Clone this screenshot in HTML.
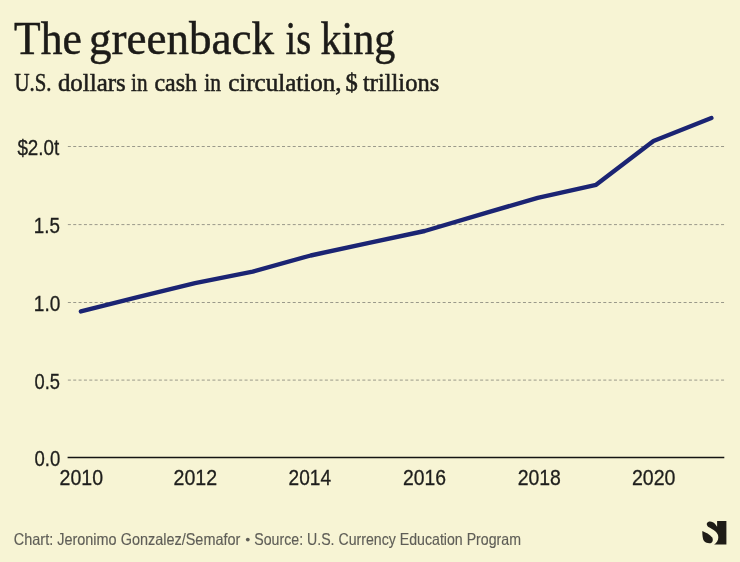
<!DOCTYPE html>
<html><head><meta charset="utf-8">
<style>
html,body{margin:0;padding:0;background:#F7F4D4;}
body{width:740px;height:562px;overflow:hidden;position:relative;font-family:"Liberation Sans",sans-serif;}
svg{position:absolute;left:0;top:0;display:block;will-change:transform;}
</style></head><body>
<svg width="740" height="562" viewBox="0 0 740 562">
<rect x="0" y="0" width="740" height="562" fill="#F7F4D4"/>
<g stroke="#9a998a" stroke-width="1" stroke-dasharray="3 2.354" fill="none">
<line x1="67.87" y1="146.5" x2="724.1" y2="146.5"/>
<line x1="67.87" y1="224.6" x2="724.1" y2="224.6"/>
<line x1="67.87" y1="302.5" x2="724.1" y2="302.5"/>
<line x1="67.87" y1="380.1" x2="724.1" y2="380.1"/>
</g>
<line x1="67.6" y1="457.5" x2="724.3" y2="457.5" stroke="#151413" stroke-width="1.5"/>
<text x="14.05" y="54" font-family="Liberation Serif" font-size="47" fill="#1c1b18" textLength="67.75" lengthAdjust="spacingAndGlyphs" stroke="#1c1b18" stroke-width="0.5">The</text>
<text x="88.88" y="54" font-family="Liberation Serif" font-size="47" fill="#1c1b18" textLength="185.24" lengthAdjust="spacingAndGlyphs" stroke="#1c1b18" stroke-width="0.5">greenback</text>
<text x="285.50" y="54" font-family="Liberation Serif" font-size="47" fill="#1c1b18" textLength="25.66" lengthAdjust="spacingAndGlyphs" stroke="#1c1b18" stroke-width="0.5">is</text>
<text x="320.50" y="54" font-family="Liberation Serif" font-size="47" fill="#1c1b18" textLength="74.65" lengthAdjust="spacingAndGlyphs" stroke="#1c1b18" stroke-width="0.5">king</text>
<text x="14.50" y="90.6" font-family="Liberation Serif" font-size="25" fill="#1f1e1b" textLength="36.94" lengthAdjust="spacingAndGlyphs" stroke="#1f1e1b" stroke-width="0.55">U.S.</text>
<text x="57.90" y="90.6" font-family="Liberation Serif" font-size="25" fill="#1f1e1b" textLength="67.93" lengthAdjust="spacingAndGlyphs" stroke="#1f1e1b" stroke-width="0.55">dollars</text>
<text x="131.10" y="90.6" font-family="Liberation Serif" font-size="25" fill="#1f1e1b" textLength="16.48" lengthAdjust="spacingAndGlyphs" stroke="#1f1e1b" stroke-width="0.55">in</text>
<text x="154.40" y="90.6" font-family="Liberation Serif" font-size="25" fill="#1f1e1b" textLength="42.62" lengthAdjust="spacingAndGlyphs" stroke="#1f1e1b" stroke-width="0.55">cash</text>
<text x="204.20" y="90.6" font-family="Liberation Serif" font-size="25" fill="#1f1e1b" textLength="16.67" lengthAdjust="spacingAndGlyphs" stroke="#1f1e1b" stroke-width="0.55">in</text>
<text x="228.20" y="90.6" font-family="Liberation Serif" font-size="25" fill="#1f1e1b" textLength="113.45" lengthAdjust="spacingAndGlyphs" stroke="#1f1e1b" stroke-width="0.55">circulation,</text>
<text x="345.42" y="90.6" font-family="Liberation Serif" font-size="25" fill="#1f1e1b" textLength="12.27" lengthAdjust="spacingAndGlyphs" stroke="#1f1e1b" stroke-width="0.55">$</text>
<text x="363.00" y="90.6" font-family="Liberation Serif" font-size="25" fill="#1f1e1b" textLength="76.21" lengthAdjust="spacingAndGlyphs" stroke="#1f1e1b" stroke-width="0.55">trillions</text>
<text x="17.40" y="154.6" font-family="Liberation Sans" font-size="21.2" fill="#1e1e1c" textLength="41.90" lengthAdjust="spacingAndGlyphs" stroke="#1e1e1c" stroke-width="0.3">$2.0t</text>
<text x="33.81" y="232.7" font-family="Liberation Sans" font-size="21.2" fill="#1e1e1c" textLength="26.19" lengthAdjust="spacingAndGlyphs" stroke="#1e1e1c" stroke-width="0.3">1.5</text>
<text x="33.80" y="310.6" font-family="Liberation Sans" font-size="21.2" fill="#1e1e1c" textLength="26.50" lengthAdjust="spacingAndGlyphs" stroke="#1e1e1c" stroke-width="0.3">1.0</text>
<text x="34.50" y="388.6" font-family="Liberation Sans" font-size="21.2" fill="#1e1e1c" textLength="25.48" lengthAdjust="spacingAndGlyphs" stroke="#1e1e1c" stroke-width="0.3">0.5</text>
<text x="34.50" y="466.0" font-family="Liberation Sans" font-size="21.2" fill="#1e1e1c" textLength="25.79" lengthAdjust="spacingAndGlyphs" stroke="#1e1e1c" stroke-width="0.3">0.0</text>
<text x="59.58" y="484.6" font-family="Liberation Sans" font-size="21.2" fill="#1e1e1c" textLength="43.44" lengthAdjust="spacingAndGlyphs" stroke="#1e1e1c" stroke-width="0.3">2010</text>
<text x="173.58" y="484.6" font-family="Liberation Sans" font-size="21.2" fill="#1e1e1c" textLength="43.55" lengthAdjust="spacingAndGlyphs" stroke="#1e1e1c" stroke-width="0.3">2012</text>
<text x="288.60" y="484.6" font-family="Liberation Sans" font-size="21.2" fill="#1e1e1c" textLength="42.40" lengthAdjust="spacingAndGlyphs" stroke="#1e1e1c" stroke-width="0.3">2014</text>
<text x="402.89" y="484.6" font-family="Liberation Sans" font-size="21.2" fill="#1e1e1c" textLength="43.03" lengthAdjust="spacingAndGlyphs" stroke="#1e1e1c" stroke-width="0.3">2016</text>
<text x="517.68" y="484.6" font-family="Liberation Sans" font-size="21.2" fill="#1e1e1c" textLength="43.24" lengthAdjust="spacingAndGlyphs" stroke="#1e1e1c" stroke-width="0.3">2018</text>
<text x="631.88" y="484.6" font-family="Liberation Sans" font-size="21.2" fill="#1e1e1c" textLength="43.55" lengthAdjust="spacingAndGlyphs" stroke="#1e1e1c" stroke-width="0.3">2020</text>
<text x="13.80" y="544.8" font-family="Liberation Sans" font-size="16.5" fill="#5f5e57" textLength="226.56" lengthAdjust="spacingAndGlyphs" stroke="#5f5e57" stroke-width="0.15">Chart: Jeronimo Gonzalez/Semafor</text>
<text x="254.30" y="544.8" font-family="Liberation Sans" font-size="16.5" fill="#5f5e57" textLength="266.64" lengthAdjust="spacingAndGlyphs" stroke="#5f5e57" stroke-width="0.15">Source: U.S. Currency Education Program</text>
<polyline fill="none" stroke="#1b2473" stroke-width="4.4" stroke-linecap="round" stroke-linejoin="round" points="80.9,311.4 137.7,297.1 195,283.1 252.7,271.6 310.7,255.5 367.9,243.2 424.7,231.0 486,212.8 537.7,197.9 596.1,184.8 653.5,141.0 711.4,118.0"/>
<g fill="#1f1c17" transform="translate(700,518)">
<path d="M17.1,2.9 L26.4,2.9 L26.4,26.4 L14.1,26.6 C16.5,25 18.4,22.5 18.3,19.6 C18.4,17.2 17.6,14.4 13.6,11.9 L9.5,9.6 C6.3,7.8 6.0,4.9 8.2,3.9 C10.5,3 13.5,4 15.3,6.3 L17.1,8.7 Z"/>
<path d="M2.3,13 C5.5,14.3 10,16.5 12.2,19.5 C13.2,21.2 13,23.6 11.5,24.7 C9.5,25.9 6,25 4,23 C2.6,21.2 2.3,17 2.3,13 Z"/>
</g>
<circle cx="247.8" cy="539.6" r="1.9" fill="#5f5e57"/>
</svg>
</body></html>
